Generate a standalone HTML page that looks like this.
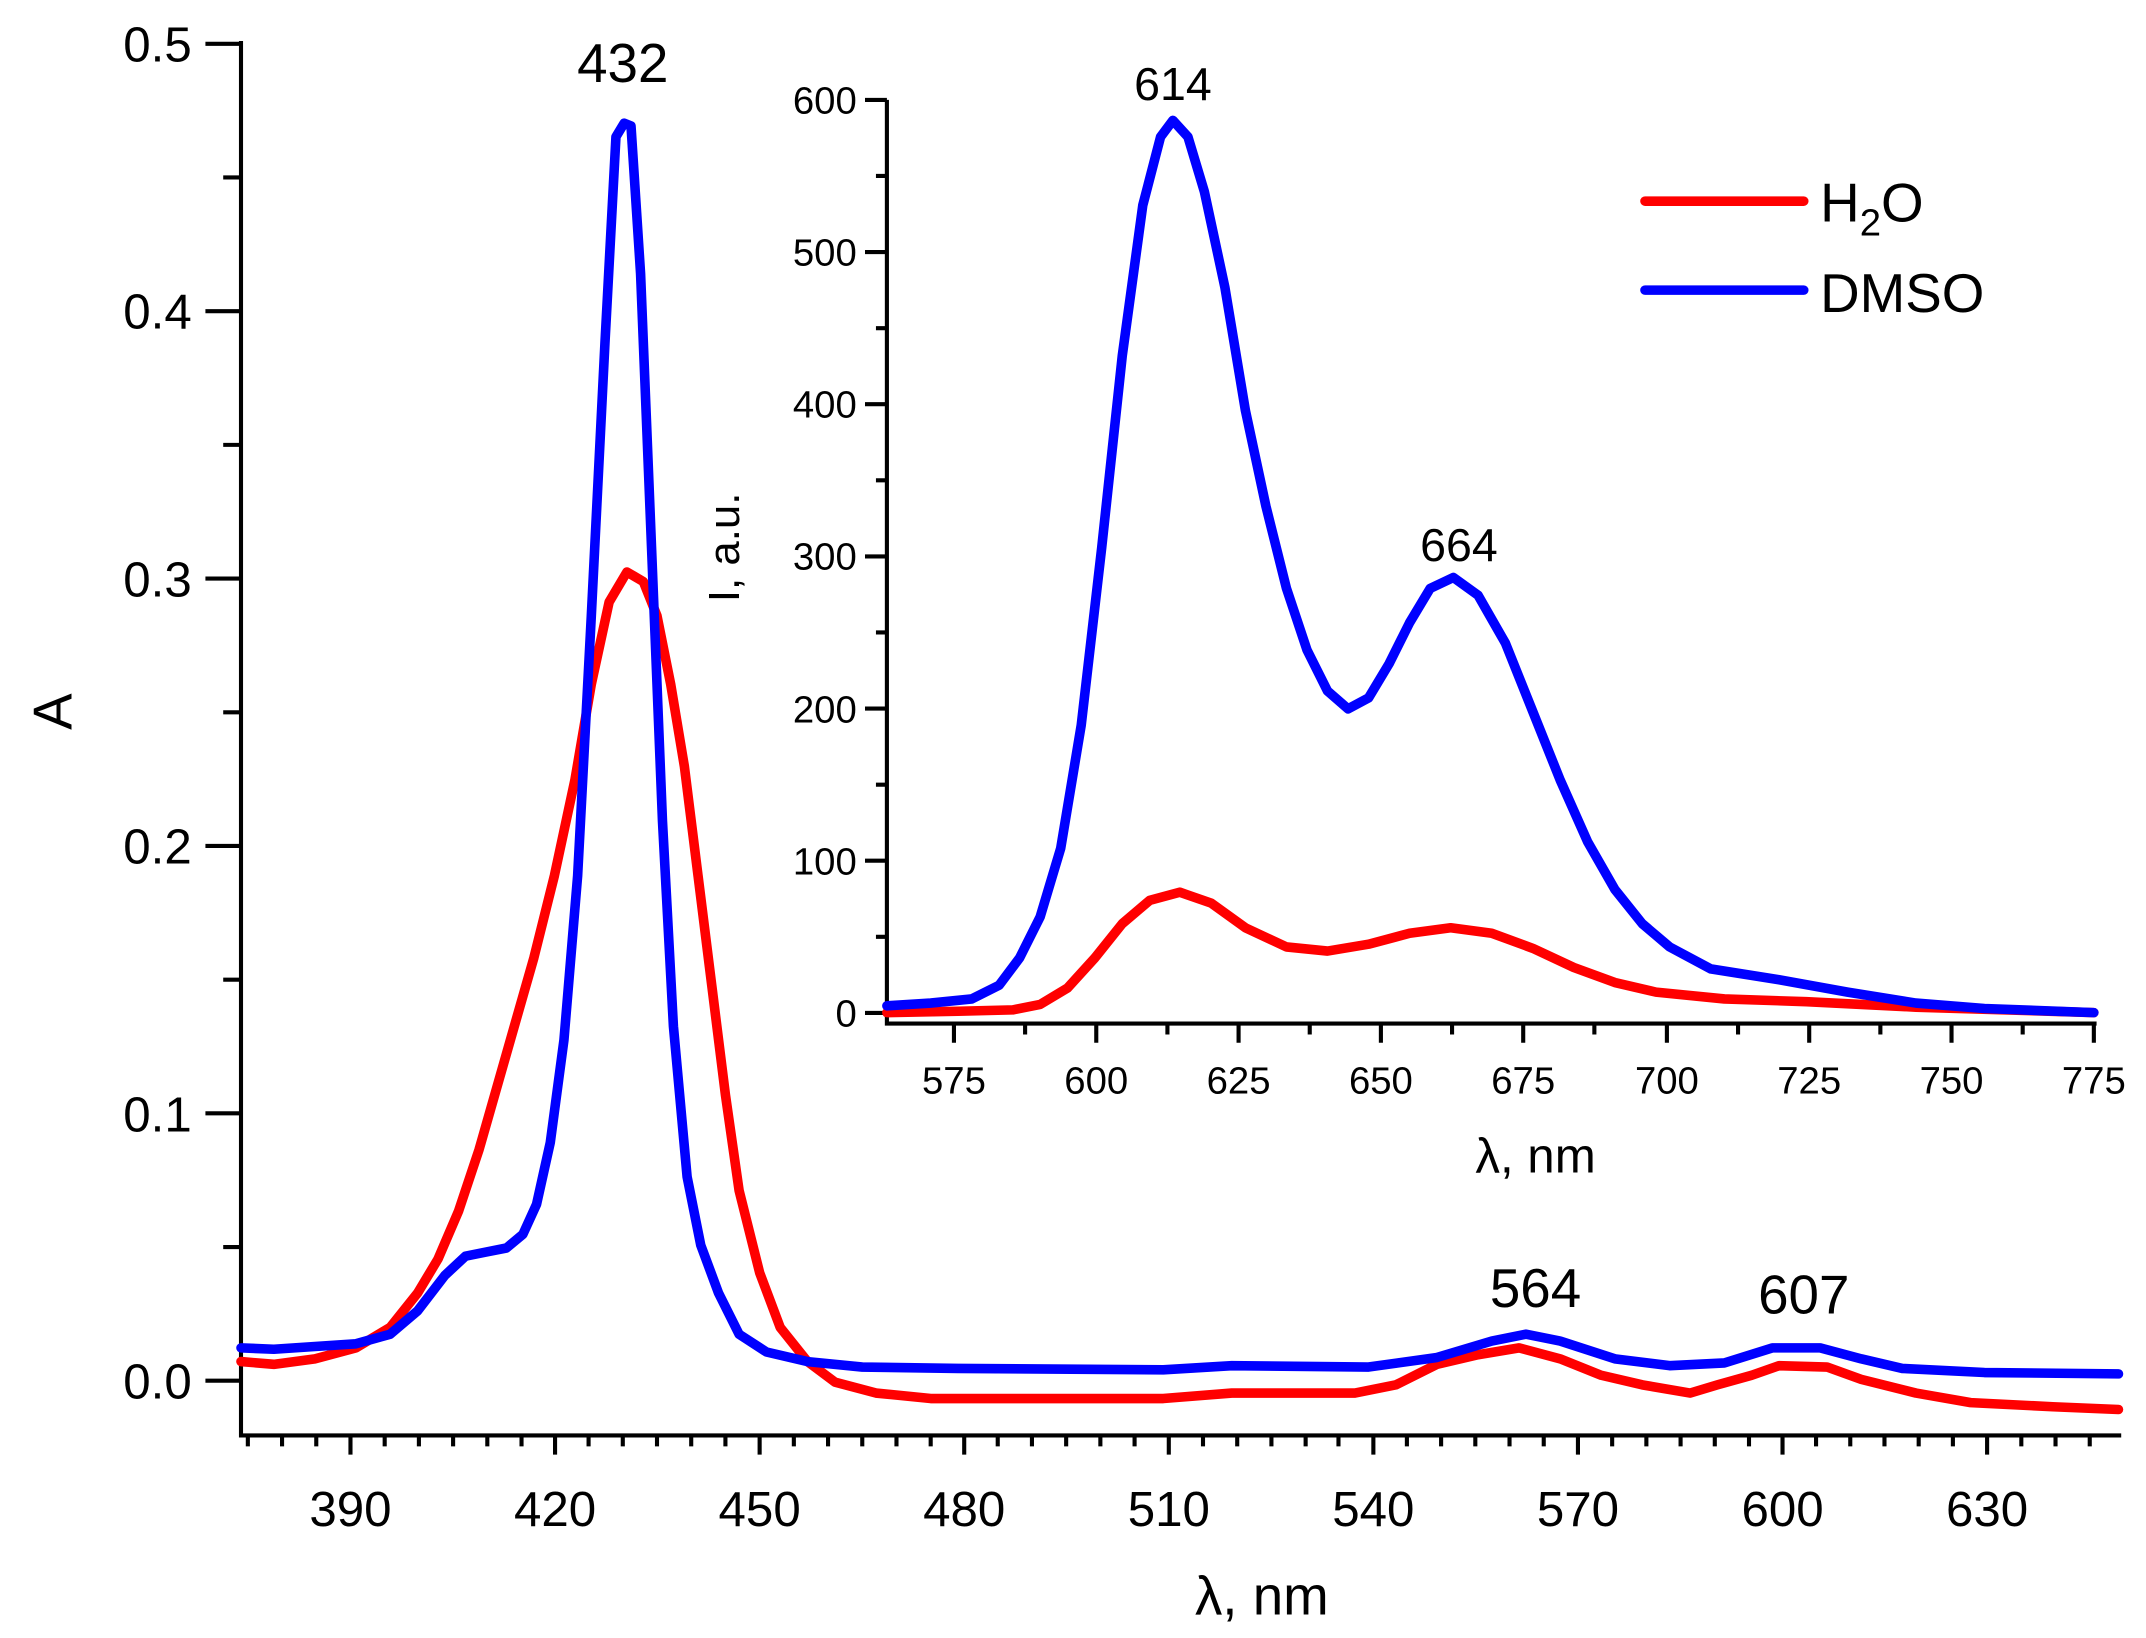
<!DOCTYPE html>
<html><head><meta charset="utf-8"><style>html,body{margin:0;padding:0;background:#fff}svg{display:block}</style></head>
<body>
<svg width="2146" height="1638" viewBox="0 0 1568 1197" xmlns="http://www.w3.org/2000/svg" font-family="Liberation Sans, Arial, sans-serif">
<rect width="1568" height="1197" fill="#fff"/>
<g stroke="#000" stroke-width="3" fill="none">
<path d="M176,30 V1049 H1550"/>
<path d="M150,32H176 M150,227.4H176 M150,422.8H176 M150,618.2H176 M150,813.6H176 M150,1009H176"/>
<path d="M163,129.7H176 M163,325.1H176 M163,520.5H176 M163,715.9H176 M163,911.3H176"/>
<path d="M256,1049v14 M405.5,1049v14 M555,1049v14 M704.5,1049v14 M854,1049v14 M1003.5,1049v14 M1153,1049v14 M1302.5,1049v14 M1452,1049v14"/>
<path d="M181,1049v8 M331,1049v8 M480,1049v8 M630,1049v8 M779,1049v8 M929,1049v8 M1078,1049v8 M1228,1049v8 M1377,1049v8 M1527,1049v8"/>
<path d="M206,1049v8 M231,1049v8 M281,1049v8 M306,1049v8 M356,1049v8 M381,1049v8 M430,1049v8 M455,1049v8 M505,1049v8 M530,1049v8 M580,1049v8 M605,1049v8 M655,1049v8 M680,1049v8 M729,1049v8 M754,1049v8 M804,1049v8 M829,1049v8 M879,1049v8 M904,1049v8 M954,1049v8 M978,1049v8 M1028,1049v8 M1053,1049v8 M1103,1049v8 M1128,1049v8 M1178,1049v8 M1203,1049v8 M1253,1049v8 M1278,1049v8 M1327,1049v8 M1352,1049v8 M1402,1049v8 M1427,1049v8 M1477,1049v8 M1502,1049v8"/>
<path d="M648,73 V748 H1532"/>
<path d="M632,73H648 M632,184.2H648 M632,295.4H648 M632,406.6H648 M632,517.8H648 M632,629H648 M632,740.2H648"/>
<path d="M640,128.6H648 M640,239.8H648 M640,351H648 M640,462.2H648 M640,573.4H648 M640,684.6H648"/>
<path d="M697,748v14 M801,748v14 M905,748v14 M1009,748v14 M1113,748v14 M1218,748v14 M1322,748v14 M1426,748v14 M1530,748v14"/>
<path d="M749,748v8 M853,748v8 M957,748v8 M1061,748v8 M1165,748v8 M1270,748v8 M1374,748v8 M1478,748v8"/>
</g>
<g font-size="36" text-anchor="end" fill="#000">
<text x="140" y="45">0.5</text><text x="140" y="240">0.4</text><text x="140" y="436">0.3</text><text x="140" y="631">0.2</text><text x="140" y="827">0.1</text><text x="140" y="1022">0.0</text>
</g>
<g font-size="36" text-anchor="middle">
<text x="256" y="1115">390</text><text x="405.5" y="1115">420</text><text x="555" y="1115">450</text><text x="704.5" y="1115">480</text><text x="854" y="1115">510</text><text x="1003.5" y="1115">540</text><text x="1153" y="1115">570</text><text x="1302.5" y="1115">600</text><text x="1452" y="1115">630</text>
</g>
<text x="922" y="1180" font-size="40" text-anchor="middle">λ, nm</text>
<text transform="translate(52,520) rotate(-90)" font-size="40" text-anchor="middle">A</text>
<g font-size="28" text-anchor="end">
<text x="626" y="83">600</text><text x="626" y="194">500</text><text x="626" y="305">400</text><text x="626" y="416">300</text><text x="626" y="528">200</text><text x="626" y="639">100</text><text x="626" y="750">0</text>
</g>
<g font-size="28" text-anchor="middle">
<text x="697" y="799">575</text><text x="801" y="799">600</text><text x="905" y="799">625</text><text x="1009" y="799">650</text><text x="1113" y="799">675</text><text x="1218" y="799">700</text><text x="1322" y="799">725</text><text x="1426" y="799">750</text><text x="1530" y="799">775</text>
</g>
<text x="1122" y="857" font-size="36" text-anchor="middle">λ, nm</text>
<text transform="translate(540,400) rotate(-90)" font-size="32" text-anchor="middle">I, a.u.</text>
<g font-size="40" text-anchor="middle">
<text x="455" y="60">432</text><text x="1122" y="955">564</text><text x="1318" y="960">607</text>
</g>
<g font-size="34" text-anchor="middle"><text x="857" y="73">614</text><text x="1066" y="410">664</text></g>
<g fill="none" stroke-width="7" stroke-linejoin="round" stroke-linecap="round">
<polyline stroke="#ff0000" points="176,995 200,997 230,993 260,985 285,970 305,945 320,920 335,885 350,840 370,770 390,700 405,640 420,570 432,500 445,440 458,418 470,425 480,450 490,500 500,560 510,640 520,720 530,800 540,870 555,930 570,970 590,995 610,1010 640,1018 680,1022 850,1022 900,1018 990,1018 1020,1012 1050,997 1080,990 1110,985 1140,993 1170,1005 1200,1012 1235,1018 1255,1012 1280,1005 1300,998 1335,999 1360,1008 1400,1018 1440,1025 1500,1028 1548,1030"/>
<polyline stroke="#0000ff" points="176,985 200,986 230,984 260,982 285,975 305,958 325,932 340,918 355,915 370,912 382,902 392,880 402,835 412,760 422,640 432,450 442,250 450,100 456,90 461,92 468,200 476,400 484,600 492,750 502,860 512,910 525,945 540,975 560,988 590,995 630,999 700,1000 850,1001 900,998 1000,999 1050,992 1090,980 1115,975 1140,980 1180,993 1220,998 1260,996 1295,985 1330,985 1360,993 1390,1000 1450,1003 1548,1004"/>
<polyline stroke="#ff0000" points="648,740 700,739 740,738 760,734 780,722 800,700 820,675 840,658 862,652 885,660 910,678 940,692 970,695 1000,690 1030,682 1060,678 1090,682 1120,693 1150,707 1180,718 1210,725 1260,730 1320,732 1400,736 1530,740"/>
<polyline stroke="#0000ff" points="648,735 680,733 710,730 730,720 745,700 760,670 775,620 790,530 805,400 820,260 835,150 848,100 857,88 868,100 880,140 895,210 910,300 925,370 940,430 955,475 970,505 985,518 1000,510 1015,485 1030,455 1045,430 1062,422 1080,435 1100,470 1120,520 1140,570 1160,615 1180,650 1200,675 1220,692 1250,708 1300,716 1350,725 1400,733 1450,737 1530,740"/>
<line x1="1202" y1="147" x2="1318" y2="147" stroke="#ff0000"/>
<line x1="1202" y1="212" x2="1318" y2="212" stroke="#0000ff"/>
</g>
<text x="1330" y="162" font-size="40">H<tspan font-size="28" dy="10">2</tspan><tspan dy="-10">O</tspan></text>
<text x="1330" y="228" font-size="40">DMSO</text>
</svg>
</body></html>
